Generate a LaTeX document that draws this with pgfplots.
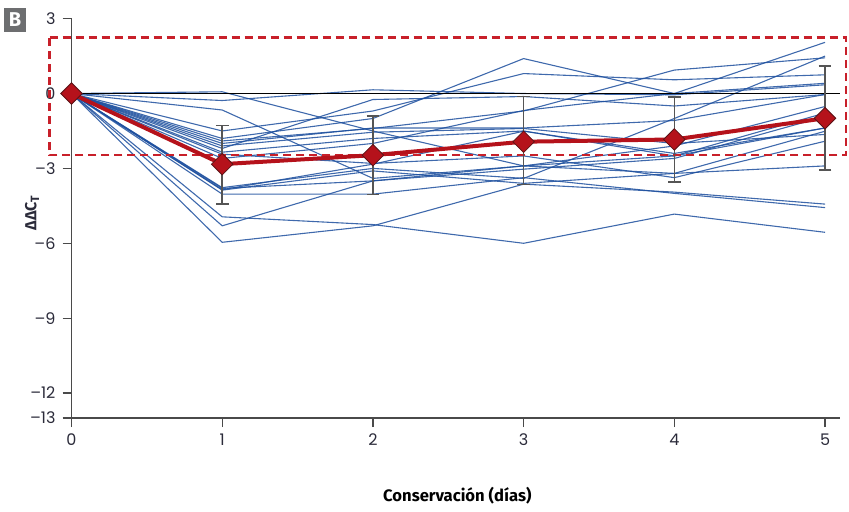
\documentclass[border=0pt]{standalone}
\usepackage{fontspec}
\setmainfont{Fira Sans}
\newfontfamily\tickfont{Poppins}
\usepackage{pgfplots}
\pgfplotsset{compat=1.18}
\definecolor{lineblue}{HTML}{1D4F9E}
\definecolor{meanred}{HTML}{B5121B}
\definecolor{darkred}{HTML}{5A1216}
\definecolor{boxred}{HTML}{C8202A}
\definecolor{axisgray}{HTML}{4A4A4A}
\definecolor{ebgray}{HTML}{555555}
\definecolor{tickc}{HTML}{2B2B3A}
\definecolor{badge}{HTML}{6D6E70}

\begin{document}
\begin{tikzpicture}
\begin{axis}[
    scale only axis,
    width=384.25pt, height=199.65pt,
    xmin=0, xmax=5.1, ymin=-13, ymax=3,
    axis x line*=bottom, axis y line*=left,
    xtick={0,1,2,3,4,5},
    ytick={-13,-12,-9,-6,-3,0,3},
    yticklabels={–13,–12,–9,–6,–3,0,3},
    tick align=outside, major tick length=4.5pt,
    tick style={color=axisgray, line width=0.6pt},
    axis line style={color=axisgray, line width=0.7pt},
    ticklabel style={font=\tickfont\fontsize{8}{9}\selectfont, text=tickc},
    /pgf/number format/assume math mode=true,
    xlabel={Conservación (días)},
    xlabel style={at={(axis description cs:0.502,-0.195)}, anchor=center,
        font=\fontsize{8.3}{9}\selectfont\bfseries, text=black},
    ylabel={ΔΔC\textsubscript{T}},
    ylabel style={at={(axis description cs:-0.0514,0.514)}, anchor=center,
        font=\fontsize{8}{9}\selectfont\bfseries, text=tickc},
    clip=false,
    ind/.style={color=lineblue, line width=0.55pt, opacity=0.85, mark=none},
]
% individual samples
\addplot[ind] coordinates {(0,0)(1,0.07)(2,-1.5)(3,-2.9)(4,-2.5)(5,-1.38)};
\addplot[ind] coordinates {(0,0)(1,-0.28)(2,0.15)(3,0.0)(4,-0.05)(5,0.35)};
\addplot[ind] coordinates {(0,0)(1,-0.66)(2,-3.4)(3,-2.9)(4,-3.2)(5,-2.9)};
\addplot[ind] coordinates {(0,0)(1,-1.5)(2,-0.7)(3,0.8)(4,0.55)(5,0.75)};
\addplot[ind] coordinates {(0,0)(1,-1.8)(2,-1.0)(3,1.4)(4,0.0)(5,0.41)};
\addplot[ind] coordinates {(0,0)(1,-1.9)(2,-1.4)(3,-0.7)(4,0.94)(5,1.43)};
\addplot[ind] coordinates {(0,0)(1,-2.1)(2,-1.55)(3,-1.4)(4,-2.0)(5,-1.64)};
\addplot[ind] coordinates {(0,0)(1,-2.35)(2,-1.8)(3,-1.5)(4,-2.5)(5,-0.78)};
\addplot[ind] coordinates {(0,0)(1,-2.43)(2,-2.8)(3,-2.5)(4,-3.37)(5,-1.91)};
\addplot[ind] coordinates {(0,0)(1,-2.6)(2,-2.0)(3,-0.68)(4,0.0)(5,2.05)};
\addplot[ind] coordinates {(0,0)(1,-3.77)(2,-3.0)(3,-3.4)(4,-1.0)(5,1.5)};
\addplot[ind] coordinates {(0,0)(1,-3.87)(2,-3.1)(3,-3.6)(4,-3.2)(5,-1.51)};
\addplot[ind] coordinates {(0,0)(1,-5.3)(2,-3.5)(3,-3.03)(4,-2.6)(5,-0.92)};
\addplot[ind] coordinates {(0,0)(1,-3.8)(2,-3.5)(3,-2.9)(4,-2.1)(5,-0.52)};
\addplot[ind] coordinates {(0,0)(1,-4.94)(2,-5.25)(3,-6.0)(4,-4.83)(5,-5.56)};
\addplot[ind] coordinates {(0,0)(1,-5.96)(2,-5.3)(3,-3.63)(4,-3.95)(5,-4.43)};
\addplot[ind] coordinates {(0,0)(1,-4.03)(2,-4.03)(3,-3.37)(4,-4.0)(5,-4.57)};
\addplot[ind] coordinates {(0,0)(1,-2.0)(2,-1.38)(3,-1.38)(4,-1.08)(5,-0.04)};
\addplot[ind] coordinates {(0,0)(1,-2.2)(2,-0.24)(3,-0.12)(4,-0.5)(5,-0.04)};
\addplot[ind] coordinates {(0,0)(1,-3.85)(2,-2.83)(3,-1.51)(4,-2.4)(5,-1.38)};
% zero line
\addplot[black, line width=0.6pt, mark=none] coordinates {(0,0)(5.1,0)};
% highlighted band
\addplot[boxred, line width=1.2pt, dash pattern=on 4pt off 2.5pt, mark=none]
    coordinates {(-0.146,2.25)(5.14,2.25)(5.14,-2.47)(-0.146,-2.47)(-0.146,2.25)};
% error bars of the mean
\addplot[draw=none, mark=none,
    error bars/.cd, y dir=both, y explicit,
    error bar style={color=ebgray, line width=0.8pt},
    error mark options={rotate=90, mark size=3.2pt, color=ebgray, line width=0.8pt}]
    coordinates {
    (1,-2.83) += (0,1.55) -= (0,1.60)
    (2,-2.47) += (0,1.58) -= (0,1.57)
    (3,-1.93) += (0,1.81) -= (0,1.72)
    (4,-1.84) += (0,1.71) -= (0,1.71)
    (5,-0.99) += (0,2.09) -= (0,2.08)
    };
% mean
\addplot[meanred, line width=2pt, mark=square*, mark size=3.8pt,
    mark options={rotate=45, fill=meanred, draw=darkred, line width=0.4pt}]
    coordinates {(0,0)(1,-2.83)(2,-2.47)(3,-1.93)(4,-1.84)(5,-0.99)};
% panel badge
\node[fill=badge, text=white, font=\fontsize{10}{11}\selectfont\bfseries,
    minimum width=11pt, minimum height=12pt, inner sep=0pt]
    at (axis cs:-0.375,2.946) {B};
\path (axis cs:-0.4745,3.7475) rectangle (axis cs:5.159,-16.533);
\end{axis}
\end{tikzpicture}
\end{document}
